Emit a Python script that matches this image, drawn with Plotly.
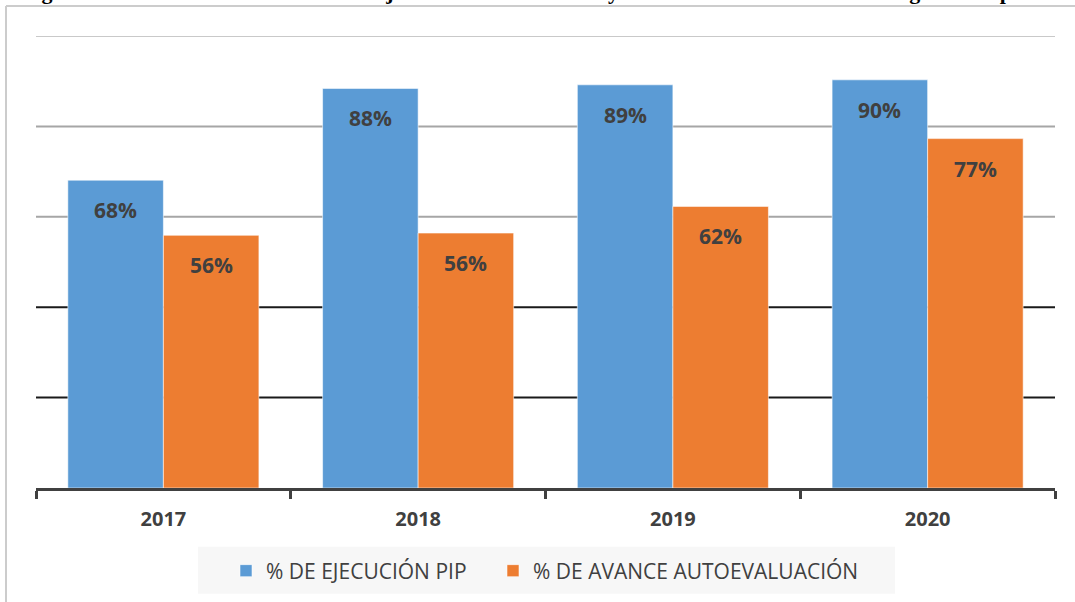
import plotly.graph_objects as go

years = ["2017", "2018", "2019", "2020"]
ejecucion_pip = [68.1, 88.4, 89.2, 90.3]
avance_autoeval = [55.9, 56.4, 62.3, 77.3]
series_names = ["% DE EJECUCIÓN PIP", "% DE AVANCE AUTOEVALUACIÓN"]
grid_levels = [20, 40, 60, 80, 100]
title_text = ("Figura 11. Evolución del avance en la ejecución de inversiones "
              "y el avance de autoevaluación según cada periodo")

W, H = 1075, 602
ML, MR, MT, MB = 36, 20, 36, 113
PW, PH = W - ML - MR, H - MT - MB


def px_x(p):
    return (p - ML) / PW


def px_y(p):
    return (H - MB - p) / PH


BLUE = "#5B9BD5"
ORANGE = "#ED7D31"
TXT = "#404040"

fig = go.Figure()
legend_ids = ["legend", "legend2"]
for name, vals, color, lg in zip(series_names, [ejecucion_pip, avance_autoeval], [BLUE, ORANGE], legend_ids):
    fig.add_trace(
        go.Bar(
            x=years,
            y=vals,
            name=name,
            legend=lg,
            marker=dict(color=color, line=dict(color="rgba(255,255,255,0.55)", width=1)),
            hoverinfo="x+y+name",
        )
    )

# data labels near the top of each bar
for i, (a, b) in enumerate(zip(ejecucion_pip, avance_autoeval)):
    for off, v in ((-0.1875, a), (0.1875, b)):
        fig.add_annotation(
            x=i + off, y=v, xref="x", yref="y",
            text=f"{v:.0f}%", showarrow=False,
            yanchor="middle", yshift=-30,
            font=dict(family="Open Sans", size=21, color=TXT, weight="bold"),
        )

# gridlines: upper ones grey, lower ones dark
grid_colors = {20: "#1a1a1a", 40: "#1a1a1a", 60: "#a6a6a6", 80: "#a6a6a6", 100: "#c9c9c9"}
for lv in grid_levels:
    fig.add_shape(
        type="line", xref="paper", yref="y", x0=0, x1=1, y0=lv, y1=lv,
        line=dict(color=grid_colors[lv], width=2), layer="below",
    )

# outer frame (light grey, partly cut off)
frame = "#cccccc"
fig.add_shape(type="line", xref="paper", yref="paper", x0=px_x(6), x1=px_x(6), y0=px_y(6), y1=px_y(H + 5),
              line=dict(color=frame, width=2))
fig.add_shape(type="line", xref="paper", yref="paper", x0=px_x(6), x1=px_x(W + 5), y0=px_y(6), y1=px_y(6),
              line=dict(color=frame, width=2))

# legend background
fig.add_shape(type="rect", xref="paper", yref="paper", x0=px_x(198), x1=px_x(895), y0=px_y(595), y1=px_y(548),
              fillcolor="#f7f7f7", line=dict(width=0), layer="below")

# cropped caption at the very top
fig.add_annotation(
    text=title_text, xref="paper", yref="paper", x=px_x(20), y=px_y(0), xanchor="left", yanchor="middle",
    showarrow=False, yshift=9,
    font=dict(family="Liberation Serif", size=22, color="black", weight="bold"),
)

legend_font = dict(family="Open Sans", size=21, color=TXT)
fig.update_layout(
    width=W, height=H,
    margin=dict(l=ML, r=MR, t=MT, b=MB),
    paper_bgcolor="white", plot_bgcolor="white",
    barmode="group", bargap=0.25, bargroupgap=0,
    showlegend=True,
    legend=dict(
        orientation="h", x=px_x(226), xanchor="left", y=px_y(571), yanchor="middle",
        font=legend_font, bgcolor="rgba(0,0,0,0)", itemclick=False,
    ),
    legend2=dict(
        orientation="h", x=px_x(493), xanchor="left", y=px_y(571), yanchor="middle",
        font=legend_font, bgcolor="rgba(0,0,0,0)", itemclick=False,
    ),
    xaxis=dict(
        type="category", showgrid=False, showline=True, linecolor=TXT, linewidth=3,
        ticks="outside", tickson="boundaries", ticklen=8, tickwidth=3, tickcolor=TXT,
        tickfont=dict(family="Open Sans", size=20, color=TXT, weight="bold"),
        ticklabelstandoff=11,
    ),
    yaxis=dict(range=[0, 100], showgrid=False, showticklabels=False, zeroline=False, showline=False),
)

fig.write_html("out.html", config={"displayModeBar": False},
               post_script="document.body.style.margin='0';")
